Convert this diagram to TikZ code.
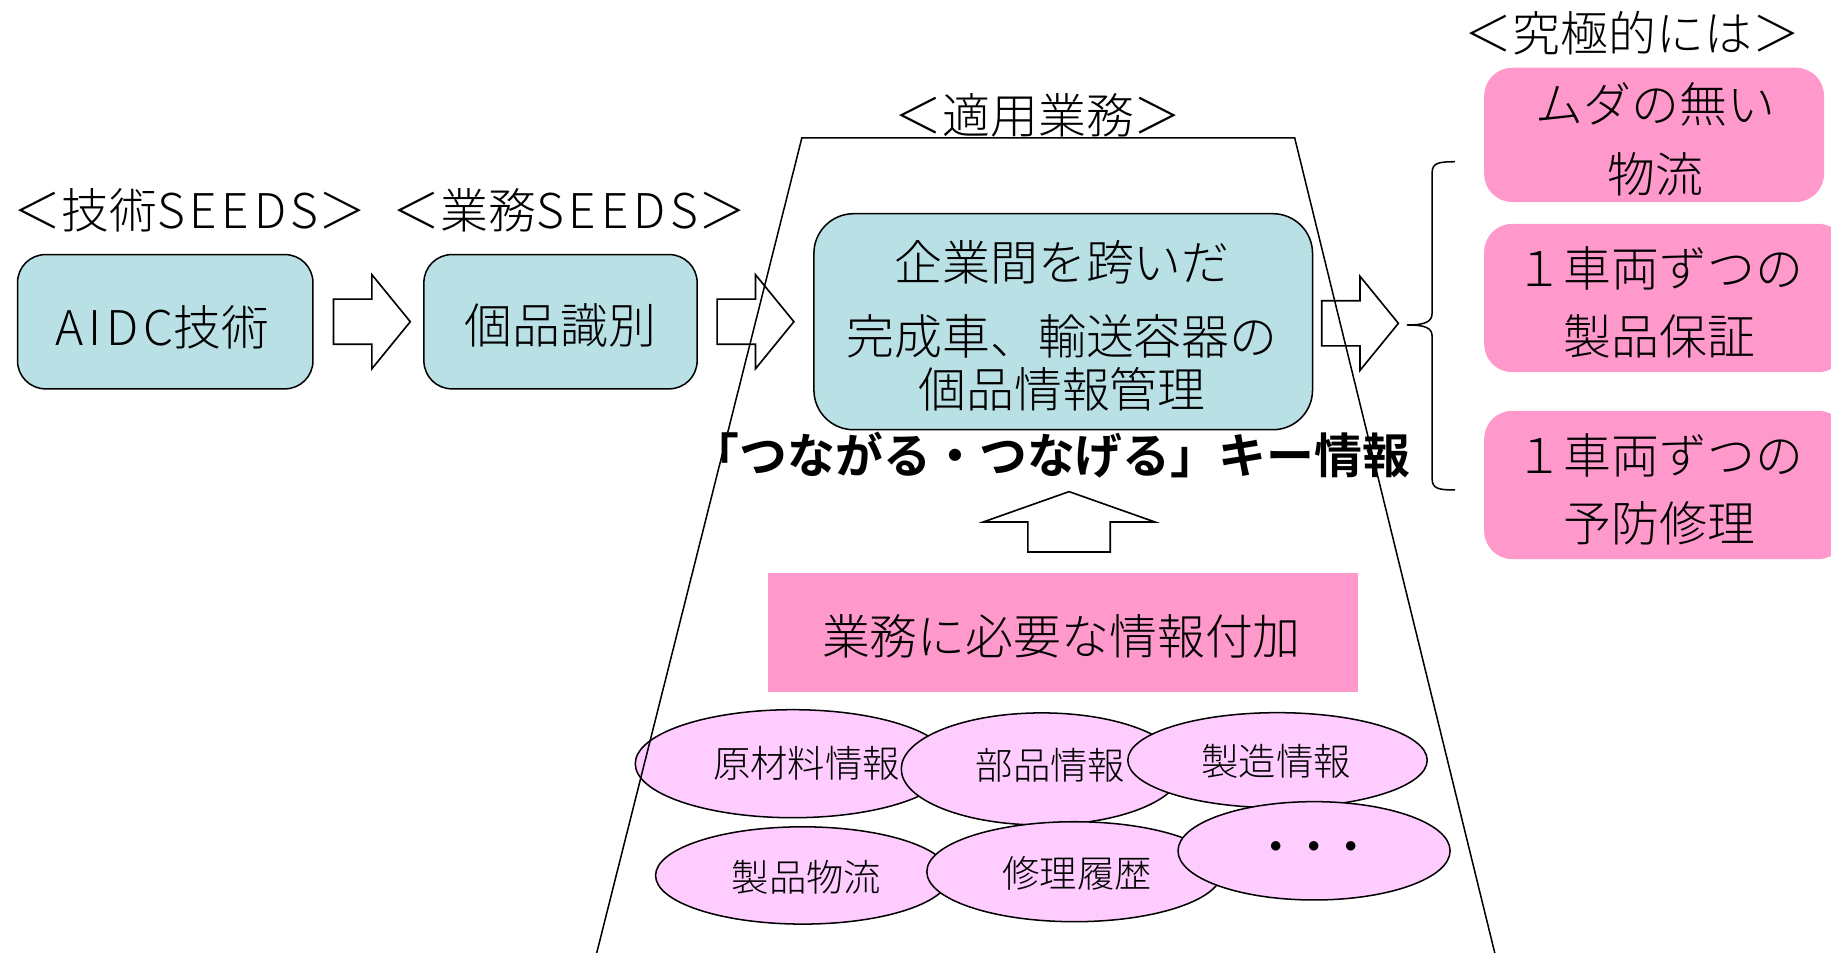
\documentclass[tikz,border=0pt]{standalone}
\usepackage{fontspec}
\setmainfont{Noto Sans CJK JP}[UprightFont={Noto Sans CJK JP Light}, BoldFont={Noto Sans CJK JP Bold}]
\usetikzlibrary{calc,shapes.geometric}
\definecolor{boxblue}{RGB}{185,224,228}
\definecolor{pinkA}{RGB}{255,153,204}
\definecolor{pinkB}{RGB}{255,204,255}
\newcommand\fbig{\fontsize{41}{54}\selectfont}
\newcommand\fsmall{\fontsize{32}{40}\selectfont}
\tikzset{
  bbox/.style={draw, fill=boxblue, rounded corners=24, line width=1.3, inner sep=0},
  pbox/.style={fill=pinkA, rounded corners=24, inner sep=0},
  ell/.style={ellipse, draw, fill=pinkB, line width=1.3, inner sep=0},
  txt/.style={font=\fbig, inner sep=0, align=center},
  stxt/.style={font=\fsmall, inner sep=0},
  arrowline/.style={draw, line width=1.4, line join=miter},
  rarrow/.pic={\draw[arrowline] (-32.85,-19.3) -- (0,-19.3) -- (0,-40.25) -- (32.85,0) -- (0,40.25) -- (0,19.3) -- (-32.85,19.3) -- cycle;}
}
\begin{document}
\begin{tikzpicture}[x=1pt,y=-1pt]
\useasboundingbox[fill=white] (0,0) rectangle (1568,816);
% headers
\node[txt] (h1) at (162.7,180) {＜技術{\addfontfeature{LetterSpace=10}SEEDS}＞};
\node[txt] (h2) at (487.6,180) {＜業務{\addfontfeature{LetterSpace=10}SEEDS}＞};
\node[txt] (h3) at (889,99) {＜適用業務＞};
\node[txt] (h4) at (1398,28) {＜究極的には＞};
% left boxes
\node[bbox, minimum width=253, minimum height=115] (aidc) at (141.5,275.5) {};
\node[txt] (aidct) at (139,280) {{\addfontfeature{LetterSpace=10}AIDC}技術};
\node[bbox, minimum width=234, minimum height=115] (kohin) at (480,275.5) {};
\node[txt] (kohint) at (480,279) {個品識別};
% central box
\node[bbox, rounded corners=34, minimum width=427, minimum height=185] (central) at (910.5,275.5) {};
\node[txt] (centralt) at (909.5,279) {企業間を跨いだ\\[9pt]完成車、輸送容器の\\[-9pt]個品情報管理};
% brace
\coordinate (btip) at (1204.7,278.3);
\draw[line width=1.3] (1246,138.5) .. controls (1232,138.5) and (1226.4,139.5) .. (1226.4,148)
  -- (1226.4,268) .. controls (1226.4,276) and (1220,278.3) .. (btip)
  .. controls (1220,278.3) and (1226.4,280.5) .. (1226.4,288)
  -- (1226.4,410) .. controls (1226.4,418.5) and (1232,419.6) .. (1246,419.6);
% right arrows
\pic at ($(aidc.east)!0.5!(kohin.west)+(3,0)$) {rarrow};
\pic at ($(kohin.east)!0.5!(central.west)$) {rarrow};
\pic at ($(central.east)!0.5!(btip)$) {rarrow};
% pink goal boxes
\node[pbox, minimum width=291, minimum height=115] (g1) at (1416.5,115.5) {};
\node[txt] (g1t) at (1417.5,119) {ムダの無い\\[6pt]物流};
\node[pbox, minimum width=310, minimum height=127] (g2) at (1426,255.2) {};
\node[txt] (g2t) at (1421,259) {１車両ずつの\\[4pt]製品保証};
\node[pbox, minimum width=310, minimum height=127] (g3) at (1426,415.3) {};
\node[txt] (g3t) at (1421,419) {１車両ずつの\\[4pt]予防修理};
% key info
\node[txt, font=\fbig\bfseries] (key) at (900,390) {「つながる・つなげる」キー情報};
% up arrow
\coordinate (ua) at (915.5,472.7);
\draw[arrowline] (ua) ++(-35.3,0) -- ++(0,-25.7) -- ++(-38.2,0) -- ++(73.5,-26) -- ++(73.5,26) -- ++(-38.2,0) -- ++(0,25.7) -- cycle;
% info add
\node[fill=pinkA, minimum width=505, minimum height=102, inner sep=0] (add) at (910.5,542) {};
\node[txt] (addt) at (909,545) {業務に必要な情報付加};
% ellipses
\node[ell, minimum width=270, minimum height=92.5] (e1) at (679,654) {};
\node[ell, minimum width=240.4, minimum height=96] (e2) at (892,658.5) {};
\node[ell, minimum width=256.4, minimum height=81.4] (e3) at (1094,651) {};
\node[ell, minimum width=252, minimum height=83.3] (e4) at (687.4,749.7) {};
\node[ell, minimum width=252.8, minimum height=85.6] (e5) at (920.1,746.5) {};
\node[ell, minimum width=233, minimum height=84.2] (e6) at (1125.3,728.6) {};
\node[stxt] (e1t) at (690.6,654) {原材料情報};
\node[stxt] (e2t) at (899.6,655) {部品情報};
\node[stxt] (e3t) at (1093,652) {製造情報};
\node[stxt] (e4t) at (690.6,751) {製品物流};
\node[stxt] (e5t) at (922.6,747.5) {修理履歴};
\node[stxt, font=\fsmall\bfseries] (e6t) at (1125,729) {・・・};
% trapezoid
\draw[line width=1.3, line join=miter] (509,824) -- (686.7,118) -- (1108.7,118) -- (1282,824);
\end{tikzpicture}
\end{document}
